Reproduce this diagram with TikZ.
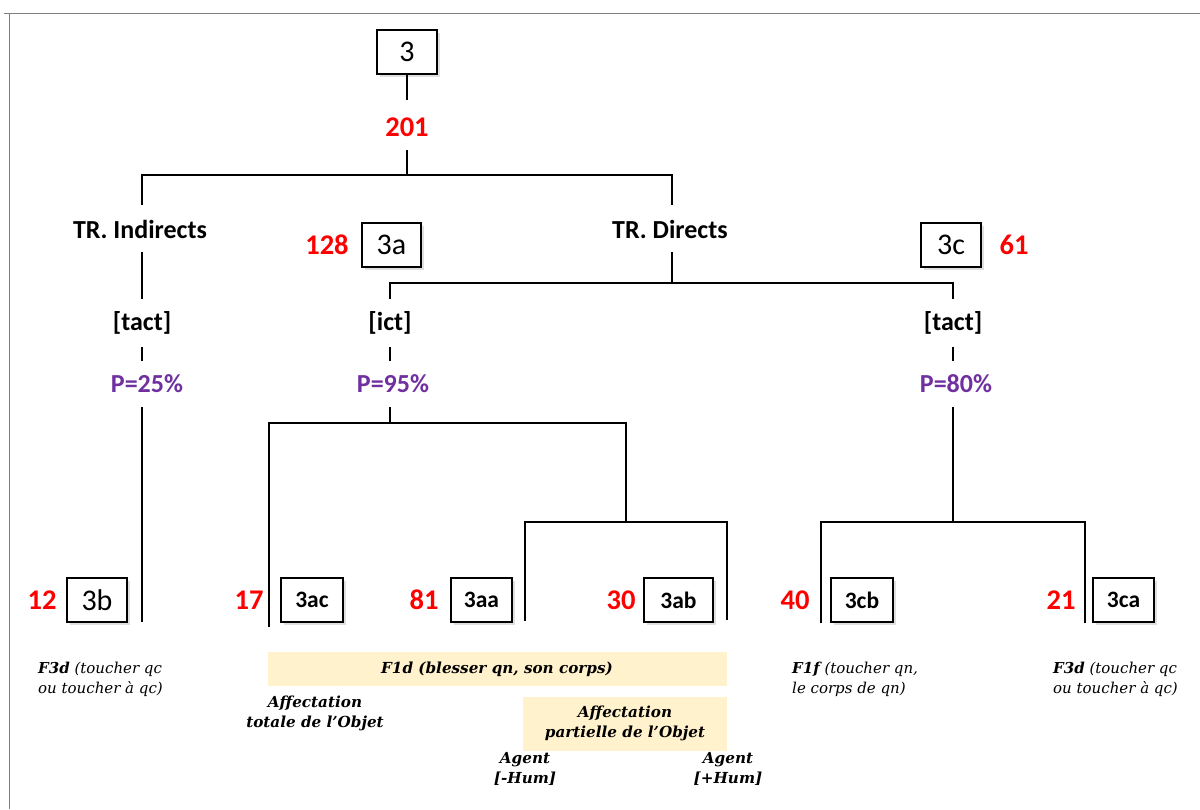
\documentclass[tikz,border=0pt]{standalone}
\usepackage{fontspec}
\setmainfont{Carlito}
\newfontfamily\geo{DejaVu Serif}
\usetikzlibrary{shadows}
\definecolor{numred}{RGB}{255,0,0}
\definecolor{ppurple}{RGB}{112,48,160}
\definecolor{bandcol}{RGB}{255,242,204}
\definecolor{framecol}{RGB}{128,128,128}
\tikzset{
  box/.style={draw,line width=1.3pt,fill=white,minimum height=44pt,inner sep=0pt,
    drop shadow={opacity=0.25,shadow xshift=3pt,shadow yshift=-3pt}},
  bigbox/.style={box,font=\fontsize{30}{30}\selectfont},
  smallbox/.style={box,font=\fontsize{23.5}{23.5}\selectfont\bfseries},
  num/.style={text=numred,font=\fontsize{28.5}{28.5}\selectfont\bfseries,inner sep=0pt},
  lab/.style={font=\fontsize{26}{26}\selectfont\bfseries,inner sep=0pt},
  prob/.style={text=ppurple,font=\fontsize{26}{26}\selectfont\bfseries,inner sep=0pt},
  tree/.style={line width=2pt},
  band/.style={fill=bandcol,draw=none},
  note/.style={font=\geo\fontsize{15.2}{20}\selectfont\itshape,align=center,inner sep=0pt},
  notel/.style={font=\geo\fontsize{15}{20}\selectfont\itshape,align=left,inner sep=0pt,anchor=west},
}
\begin{document}
\begin{tikzpicture}[x=1pt,y=-1pt]
\useasboundingbox (0,0) rectangle (1200,809);
\fill[white] (0,0) rectangle (1200,809);
% frame
\draw[framecol,line width=1pt] (4,13) -- (1200,13);
\draw[framecol,line width=1pt] (9.5,13) -- (9.5,809);

% top
\node[bigbox,minimum width=60pt] (r) at (407,52) {3};
\node[num] (n201) at (407,127) {201};
\coordinate (a0) at (407,100);
\coordinate (a1) at (407,150);
\coordinate (a2) at (407,175);
\coordinate (bl) at (142,205);
\coordinate (br) at (672,205);
\draw[tree] (r.south) -- (a0);
\draw[tree] (a1) -- (a2);
\draw[tree] (bl) |- (a2) -| (br);

\node[lab] (tri) at (140,229) {TR. Indirects};
\node[lab] (trd) at (670,229) {TR. Directs};

% left branch
\node[lab] (tact1) at (142,323) {[tact]};
\node[prob] (p25) at (147,384) {P=25\%};
\coordinate (l1) at (142,252);
\coordinate (l2) at (142,299);
\coordinate (l3) at (142,347);
\coordinate (l4) at (142,361);
\coordinate (l5) at (142,407);
\coordinate (l6) at (142,622);
\draw[tree] (l1) -- (l2);
\draw[tree] (l3) -- (l4);
\draw[tree] (l5) -- (l6);

% directs
\node[bigbox,minimum width=59pt] (b3a) at (391.5,245) {3a};
\node[num] (n128) at (327,245) {128};
\node[bigbox,minimum width=60pt] (b3c) at (951,245) {3c};
\node[num] (n61) at (1014,245) {61};
\coordinate (d1) at (672,252);
\coordinate (d2) at (672,283);
\coordinate (m1) at (390,299);
\coordinate (c1) at (953,299);
\draw[tree] (d1) -- (d2);
\draw[tree] (m1) |- (d2) -| (c1);

\node[lab] (ict) at (390,323) {[ict]};
\node[lab] (tact2) at (953,323) {[tact]};
\node[prob] (p95) at (393,384) {P=95\%};
\node[prob] (p80) at (956,384) {P=80\%};
\coordinate (m2) at (390,347);
\coordinate (m3) at (390,361);
\coordinate (c2) at (953,347);
\coordinate (c3) at (953,361);
\draw[tree] (m2) -- (m3);
\draw[tree] (c2) -- (c3);

% ict subtree
\coordinate (m4) at (390,407);
\coordinate (m5) at (390,423);
\coordinate (e1) at (269,627);
\coordinate (e2) at (626,423);
\coordinate (e3) at (626,522);
\coordinate (e4) at (525,621);
\coordinate (e5) at (727,620);
\draw[tree] (m4) -- (m5);
\draw[tree] (e1) |- (e2) -- (e3);
\draw[tree] (e4) |- (e3) -| (e5);

% tact right subtree
\coordinate (c4) at (953,407);
\coordinate (c5) at (953,522);
\coordinate (f1) at (821,623);
\coordinate (f2) at (1085,623);
\draw[tree] (c4) -- (c5);
\draw[tree] (f1) |- (c5) -| (f2);

% bottom boxes
\node[num] (n12) at (42,600) {12};
\node[bigbox,minimum width=60pt] (b3b) at (97,600) {3b};
\node[num] (n17) at (249,600) {17};
\node[smallbox,minimum width=62pt] (b3ac) at (312,600) {3ac};
\node[num] (n81) at (424,600) {81};
\node[smallbox,minimum width=61pt] (b3aa) at (481.5,600) {3aa};
\node[num] (n30) at (621,600) {30};
\node[smallbox,minimum width=69pt] (b3ab) at (678.5,600) {3ab};
\node[num] (n40) at (795,600) {40};
\node[smallbox,minimum width=62pt] (b3cb) at (862,600) {3cb};
\node[num] (n21) at (1061,600) {21};
\node[smallbox,minimum width=61pt] (b3ca) at (1123.5,600) {3ca};

% bands
\fill[band] (268,652) rectangle (727,686);
\fill[band] (523,697) rectangle (727,751);
\node[note] (f1d) at (497,669) {\bfseries F1d (blesser qn, son corps)};
\node[note] (apart) at (625,723.5) {\bfseries Affectation\\\bfseries partielle de l’Objet};
\node[note] (atot) at (315,713) {\bfseries Affectation\\\bfseries totale de l’Objet};
\node[note] (agm) at (525,769) {\bfseries Agent\\\bfseries [-Hum]};
\node[note] (agp) at (728,769) {\bfseries Agent\\\bfseries [+Hum]};
\node[notel] (f3dl) at (38,679) {{\bfseries F3d} (toucher qc\\ou toucher à qc)};
\node[notel] (f1f) at (792,679) {{\bfseries F1f} (toucher qn,\\le corps de qn)};
\node[notel] (f3dr) at (1053,679) {{\bfseries F3d} (toucher qc\\ou toucher à qc)};
\end{tikzpicture}
\end{document}
